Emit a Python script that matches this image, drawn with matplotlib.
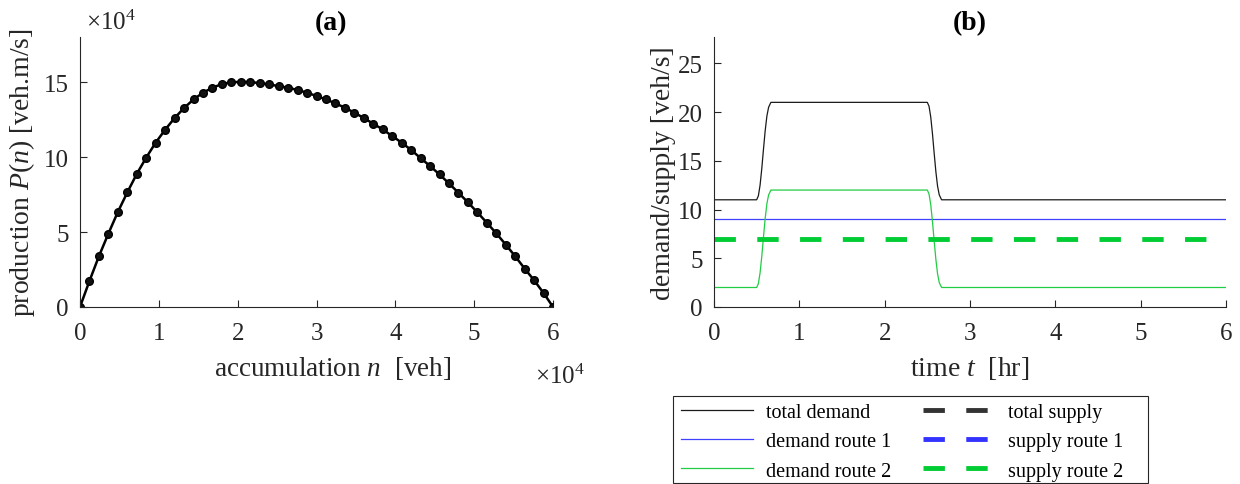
import matplotlib
matplotlib.use("Agg")
import matplotlib.pyplot as plt
from matplotlib.patches import Rectangle
import numpy as np

plt.rcParams["font.family"] = ["Liberation Serif", "DejaVu Serif"]
plt.rcParams["mathtext.fontset"] = "custom"
plt.rcParams["mathtext.rm"] = "Liberation Serif"
plt.rcParams["mathtext.it"] = "Liberation Serif:italic"
plt.rcParams["font.size"] = 18
plt.rcParams["axes.edgecolor"] = "#262626"
plt.rcParams["axes.labelcolor"] = "#262626"
plt.rcParams["xtick.color"] = "#262626"
plt.rcParams["ytick.color"] = "#262626"
plt.rcParams["xtick.direction"] = "in"
plt.rcParams["ytick.direction"] = "in"

# (a) production MFD (units of 1e4)
acc = np.arange(0, 51) * 1200 / 1e4
prod = [0, 1.73, 3.38, 4.89, 6.33, 7.64, 8.87, 9.96, 10.96, 11.82,
        12.6, 13.27, 13.84, 14.29, 14.62, 14.87, 14.98, 15.02, 15.0, 14.93,
        14.84, 14.73, 14.62, 14.47, 14.29, 14.07, 13.84, 13.58, 13.29, 12.96,
        12.6, 12.22, 11.84, 11.4, 10.96, 10.47, 9.93, 9.4, 8.84, 8.24,
        7.62, 6.98, 6.31, 5.62, 4.91, 4.16, 3.38, 2.56, 1.78, 0.93, 0]

# (b) demand / supply over time [hr]
t = [0, 0.50, 0.52, 0.54, 0.56, 0.58, 0.60, 0.62, 0.64, 0.667,
     2.50, 2.52, 2.54, 2.56, 2.58, 2.60, 2.62, 2.64, 2.667, 6]
dem_total = [11, 11, 11.4, 12.5, 14.2, 16.2, 18.1, 19.6, 20.5, 21,
             21, 20.6, 19.5, 17.8, 15.8, 13.9, 12.4, 11.5, 11, 11]
dem_r2 = [2, 2, 2.4, 3.5, 5.2, 7.2, 9.1, 10.6, 11.5, 12,
          12, 11.6, 10.5, 8.8, 6.8, 4.9, 3.4, 2.5, 2, 2]
dem_r1 = [9] * len(t)
t_sup = [0, 6]
sup_r2 = [7, 7]

fig = plt.figure(figsize=(12.4, 4.85), dpi=100)
ax1 = fig.add_axes([0.0645, 0.365, 0.3815, 0.5565])
ax2 = fig.add_axes([0.5758, 0.365, 0.4129, 0.5565])

ax1.plot(acc, prod, "-o", color="black", lw=1.8, ms=5.5, mfc="#111111", mec="black")
ax1.set_xlim(0, 6)
ax1.set_ylim(0, 18)
ax1.set_xticks(range(0, 7))
ax1.set_yticks([0, 5, 10, 15])
ax1.set_xlabel(r"accumulation $n$  [veh]", fontsize=19.5, labelpad=7)
ax1.xaxis.label.set_x(0.533)
ax1.set_ylabel(r"production $P(n)$ [veh.m/s]", fontsize=20, labelpad=5)
ax1.set_title("(a)", fontweight="bold", fontsize=20, x=0.53, pad=6)
ax1.text(0.012, 1.03, r"$\times 10^4$", transform=ax1.transAxes, ha="left",
         va="baseline", color="#262626", fontsize=18)
ax1.text(0.962, -0.28, r"$\times 10^4$", transform=ax1.transAxes, ha="left",
         va="baseline", color="#262626", fontsize=18)

sup_dash = (0, (4.4, 4.4))
h1, = ax2.plot(t, dem_total, color="#1a1a1a", lw=0.9, label="total demand")
h2, = ax2.plot(t, dem_r1, color="#4040ff", lw=0.9, label="demand route 1")
h3, = ax2.plot(t, dem_r2, color="#22cc44", lw=0.9, label="demand route 2")
h4, = ax2.plot([], [], color="#333333", lw=3.5, ls=sup_dash, label="total supply")
h5, = ax2.plot([], [], color="#3333ff", lw=3.5, ls=sup_dash, label="supply route 1")
h6, = ax2.plot(t_sup, sup_r2, color="#00cc33", lw=3.5, ls=sup_dash, label="supply route 2")
ax2.set_xlim(0, 6)
ax2.set_ylim(0, 27.7)
ax2.set_xticks(range(0, 7))
ax2.set_yticks([0, 5, 10, 15, 20, 25])
ax2.set_xlabel(r"time $t$  [hr]", fontsize=20, labelpad=7)
ax2.set_ylabel("demand/supply [veh/s]", fontsize=20, labelpad=1)
ax2.set_title("(b)", fontweight="bold", fontsize=20, pad=6)

for ax in (ax1, ax2):
    ax.spines["top"].set_visible(False)
    ax.spines["right"].set_visible(False)
    ax.tick_params(length=5, width=0.8)
    ax.tick_params(axis="x", pad=11)
    ax.tick_params(axis="y", pad=8)

leg = fig.legend(handles=[h1, h2, h3, h4, h5, h6], ncol=2, loc="upper left",
                 bbox_to_anchor=(0.5435, 0.1814), fontsize=14.5, frameon=False,
                 handlelength=3.6, handletextpad=0.6, columnspacing=1.6,
                 labelspacing=0.5, borderpad=0.35, borderaxespad=0)

# legend box drawn by hand so its width matches the original
fig.patches.append(Rectangle((673 / 1240, 0.002), 475 / 1240, 0.1814 - 0.002,
                             transform=fig.transFigure, fill=False,
                             edgecolor="#262626", lw=0.8))

fig.savefig("out.png", dpi=100)
